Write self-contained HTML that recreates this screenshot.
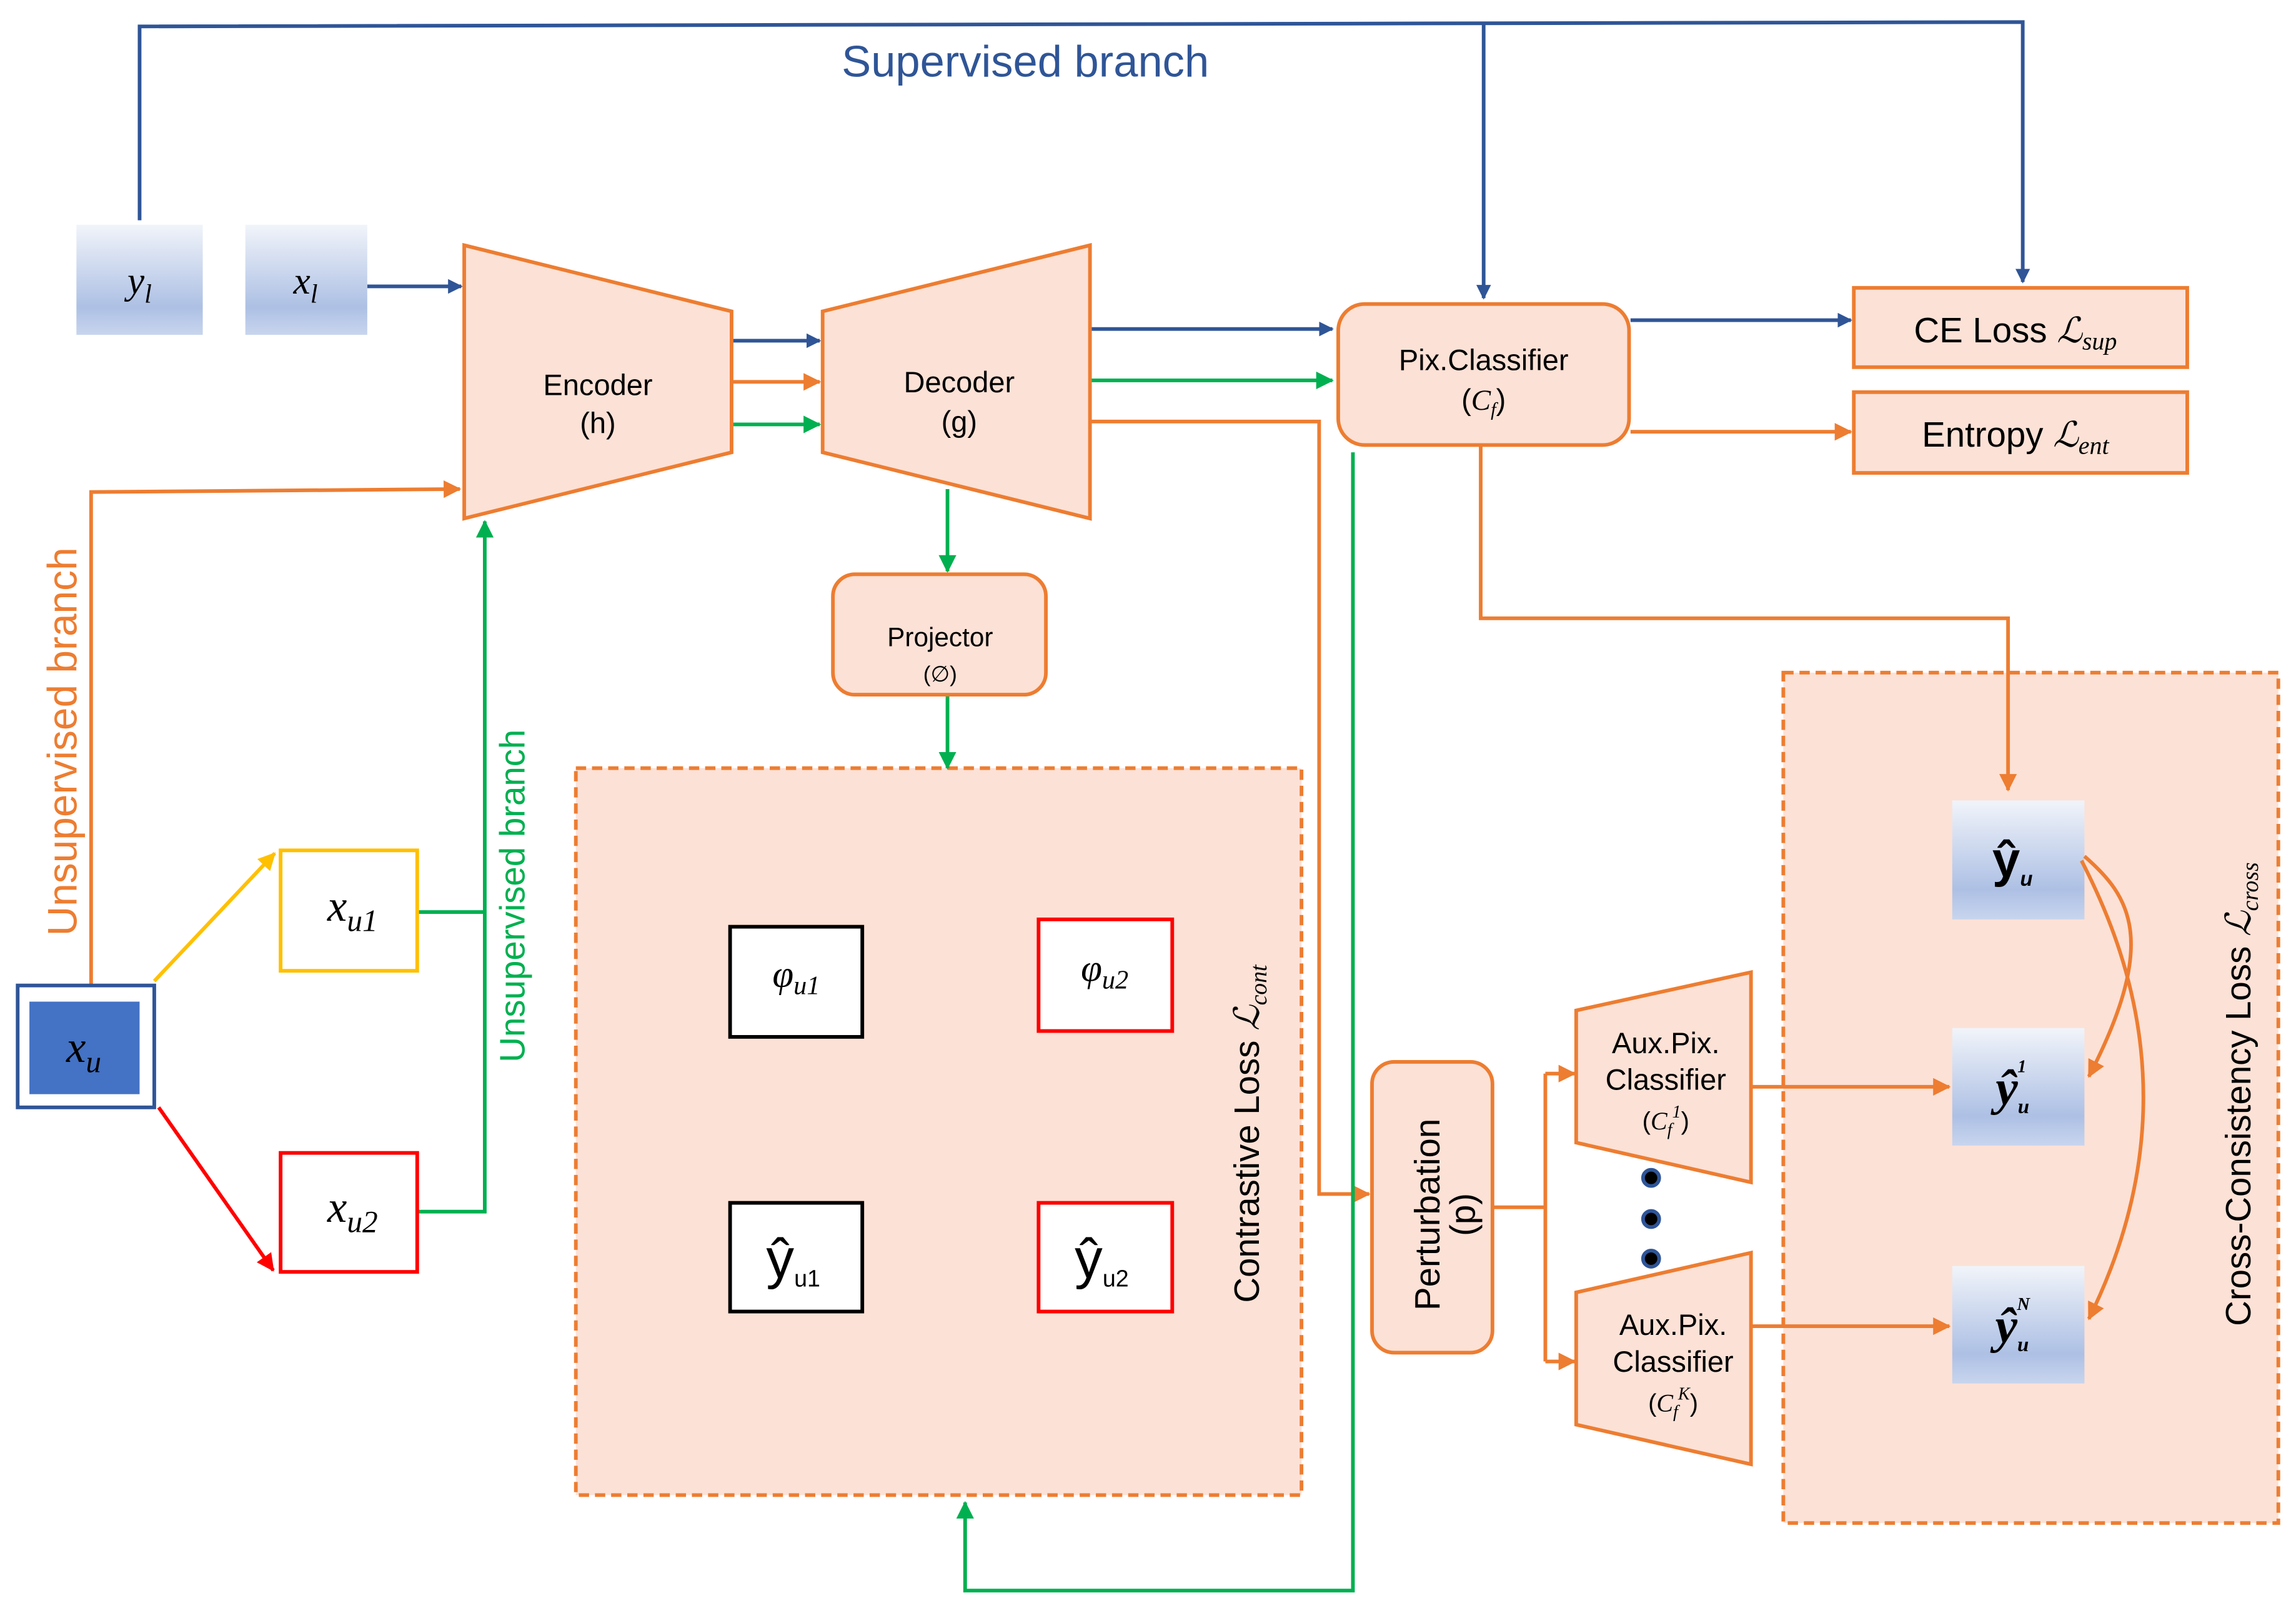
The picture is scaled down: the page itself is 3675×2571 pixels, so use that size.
<!DOCTYPE html>
<html><head><meta charset="utf-8"><style>
html,body{margin:0;padding:0;background:#fff;}
svg{display:block;}
text{font-family:"Liberation Sans","DejaVu Sans",sans-serif;}
.m{font-family:"Liberation Serif",serif;font-style:italic;}
</style></head><body>
<svg width="3675" height="2571" viewBox="0 0 1563 1093.5" xmlns="http://www.w3.org/2000/svg">
<defs>
<linearGradient id="bg" x1="0" y1="0" x2="0" y2="1">
<stop offset="0" stop-color="#f1f4fa"/><stop offset="0.75" stop-color="#adc0e4"/><stop offset="1" stop-color="#c8d5ee"/>
</linearGradient>
<marker id="ab" markerWidth="10" markerHeight="10" refX="9" refY="5" orient="auto" markerUnits="userSpaceOnUse"><path d="M0,0 L10,5 L0,10Z" fill="#2F5597"/></marker>
<marker id="ao" markerWidth="12" markerHeight="12" refX="11" refY="6" orient="auto" markerUnits="userSpaceOnUse"><path d="M0,0 L12,6 L0,12Z" fill="#ED7D31"/></marker>
<marker id="ag" markerWidth="12" markerHeight="12" refX="11" refY="6" orient="auto" markerUnits="userSpaceOnUse"><path d="M0,0 L12,6 L0,12Z" fill="#00B050"/></marker>
<marker id="ay" markerWidth="12" markerHeight="12" refX="11" refY="6" orient="auto" markerUnits="userSpaceOnUse"><path d="M0,0 L12,6 L0,12Z" fill="#FFC000"/></marker>
<marker id="ar" markerWidth="12" markerHeight="12" refX="11" refY="6" orient="auto" markerUnits="userSpaceOnUse"><path d="M0,0 L12,6 L0,12Z" fill="#FF0000"/></marker>
</defs>
<g fill="#FCE1D6" stroke="#ED7D31" stroke-width="2.5">
<rect x="392" y="523" width="494" height="495" stroke-dasharray="7,4"/>
<rect x="1214" y="458" width="337" height="579" stroke-dasharray="7,4"/>
</g>
<g fill="none" stroke-width="2.5">
<path d="M95,150 L95,18 L1377,15 L1377,192" stroke="#2F5597" marker-end="url(#ab)"/>
<path d="M1010,17 L1010,203" stroke="#2F5597" marker-end="url(#ab)"/>
<path d="M250,195 L314,195" stroke="#2F5597" marker-end="url(#ab)"/>
<path d="M499,232 L558,232" stroke="#2F5597" marker-end="url(#ab)"/>
<path d="M743,224 L907,224" stroke="#2F5597" marker-end="url(#ab)"/>
<path d="M1110,218 L1260,218" stroke="#2F5597" marker-end="url(#ab)"/>
<path d="M499,260 L558,260" stroke="#ED7D31" marker-end="url(#ao)"/>
<path d="M62,671 L62,335 L313,333" stroke="#ED7D31" marker-end="url(#ao)"/>
<path d="M743,287 L898,287 L898,813 L932,813" stroke="#ED7D31" marker-end="url(#ao)"/>
<path d="M1110,294 L1260,294" stroke="#ED7D31" marker-end="url(#ao)"/>
<path d="M1008,304 L1008,421 L1367,421 L1367,538" stroke="#ED7D31" marker-end="url(#ao)"/>
<path d="M1016,822 L1052,822" stroke="#ED7D31"/>
<path d="M1052,731 L1052,927" stroke="#ED7D31"/>
<path d="M1052,731 L1072,731" stroke="#ED7D31" marker-end="url(#ao)"/>
<path d="M1052,927 L1072,927" stroke="#ED7D31" marker-end="url(#ao)"/>
<path d="M1192,740 L1327,740" stroke="#ED7D31" marker-end="url(#ao)"/>
<path d="M1192,903 L1327,903" stroke="#ED7D31" marker-end="url(#ao)"/>
<path d="M499,289 L558,289" stroke="#00B050" marker-end="url(#ag)"/>
<path d="M743,259 L907,259" stroke="#00B050" marker-end="url(#ag)"/>
<path d="M645,333 L645,389" stroke="#00B050" marker-end="url(#ag)"/>
<path d="M645,473 L645,523" stroke="#00B050" marker-end="url(#ag)"/>
<path d="M921,308 L921,1083 L657,1083 L657,1023" stroke="#00B050" marker-end="url(#ag)"/>
<path d="M284,621 L330,621 M284,825 L330,825 L330,355" stroke="#00B050" marker-end="url(#ag)"/>
<path d="M105,668 L187,581" stroke="#FFC000" marker-end="url(#ay)"/>
<path d="M108,754 L186,865" stroke="#FF0000" marker-end="url(#ar)"/>
</g>
<text x="698" y="52" font-size="30" fill="#2F5597" text-anchor="middle">Supervised branch</text>
<rect x="52" y="153" width="86" height="75" fill="url(#bg)"/>
<rect x="167" y="153" width="83" height="75" fill="url(#bg)"/>
<text x="95" y="200" class="m" font-size="26" text-anchor="middle">y<tspan font-size="18" dy="6">l</tspan></text>
<text x="208" y="200" class="m" font-size="26" text-anchor="middle">x<tspan font-size="18" dy="6">l</tspan></text>
<g fill="#FCE1D6" stroke="#ED7D31" stroke-width="2.5">
<path d="M316,167 L498,212 L498,308 L316,353Z"/>
<path d="M560,212 L742,167 L742,353 L560,308Z"/>
<rect x="911" y="207" width="198" height="96" rx="18"/>
<rect x="1262" y="196" width="227" height="54"/>
<rect x="1262" y="267" width="227" height="55"/>
<rect x="567" y="391" width="145" height="82" rx="15"/>
<rect x="934" y="723" width="82" height="198" rx="15"/>
<path d="M1073,688 L1192,662 L1192,805 L1073,778Z"/>
<path d="M1073,880 L1192,853 L1192,997 L1073,970Z"/>
</g>
<g font-size="20" text-anchor="middle" fill="#000">
<text x="407" y="269">Encoder</text><text x="407" y="295">(h)</text>
<text x="653" y="267">Decoder</text><text x="653" y="294">(g)</text>
<text x="1010" y="252">Pix.Classifier</text>
<text x="1010" y="279">(<tspan class="m">C<tspan font-size="13" dy="4">f</tspan></tspan><tspan dy="-4">)</tspan></text>
<text x="1372" y="233" font-size="24">CE Loss <tspan class="m">ℒ<tspan font-size="17" dy="5">sup</tspan></tspan></text>
<text x="1372" y="304" font-size="24">Entropy <tspan class="m">ℒ<tspan font-size="17" dy="5">ent</tspan></tspan></text>
<text x="640" y="440" font-size="18">Projector</text>
<text x="640" y="464" font-size="15">(∅)</text>
<text x="1134" y="717">Aux.Pix.</text><text x="1134" y="742">Classifier</text>
<text x="1134" y="769" font-size="17">(<tspan class="m">C<tspan font-size="12" dy="4">f</tspan><tspan font-size="12" dy="-12">1</tspan></tspan><tspan dy="8">)</tspan></text>
<text x="1139" y="909">Aux.Pix.</text><text x="1139" y="934">Classifier</text>
<text x="1139" y="961" font-size="17">(<tspan class="m">C<tspan font-size="12" dy="4">f</tspan><tspan font-size="12" dy="-12">K</tspan></tspan><tspan dy="8">)</tspan></text>
</g>
<text transform="translate(980,827) rotate(-90)" font-size="24" text-anchor="middle">Perturbation</text>
<text transform="translate(1004,827) rotate(-90)" font-size="24" text-anchor="middle">(p)</text>
<text transform="translate(857,772) rotate(-90)" font-size="24" text-anchor="middle">Contrastive Loss <tspan class="m">ℒ<tspan font-size="16" dy="5">cont</tspan></tspan></text>
<text transform="translate(1532,745) rotate(-90)" font-size="24" text-anchor="middle">Cross-Consistency Loss <tspan class="m">ℒ<tspan font-size="16" dy="5">cross</tspan></tspan></text>
<text transform="translate(52,505) rotate(-90)" font-size="28" fill="#ED7D31" text-anchor="middle">Unsupervised branch</text>
<text transform="translate(357,610) rotate(-90)" font-size="24" fill="#00B050" text-anchor="middle">Unsupervised branch</text>
<rect x="12" y="671" width="93" height="83" fill="#fff" stroke="#2F5597" stroke-width="2.5"/>
<rect x="20" y="682" width="75" height="63" fill="#4472C4"/>
<text x="57" y="723" class="m" font-size="30" text-anchor="middle">x<tspan font-size="21" dy="7">u</tspan></text>
<rect x="191" y="579" width="93" height="82" fill="#fff" stroke="#FFC000" stroke-width="2.5"/>
<text x="240" y="627" class="m" font-size="30" text-anchor="middle">x<tspan font-size="21" dy="7">u1</tspan></text>
<rect x="191" y="785" width="93" height="81" fill="#fff" stroke="#FF0000" stroke-width="2.5"/>
<text x="240" y="832" class="m" font-size="30" text-anchor="middle">x<tspan font-size="21" dy="7">u2</tspan></text>
<g fill="#fff" stroke-width="2.5">
<rect x="497" y="631" width="90" height="75" stroke="#000"/>
<rect x="707" y="626" width="91" height="76" stroke="#f00"/>
<rect x="497" y="819" width="90" height="74" stroke="#000"/>
<rect x="707" y="819" width="91" height="74" stroke="#f00"/>
</g>
<text x="542" y="672" class="m" font-size="26" text-anchor="middle">φ<tspan font-size="18" dy="5">u1</tspan></text>
<text x="752" y="668" class="m" font-size="26" text-anchor="middle">φ<tspan font-size="18" dy="5">u2</tspan></text>
<text x="540" y="870" font-family="Liberation Serif" font-size="38" text-anchor="middle">ŷ<tspan font-size="16" dy="6">u1</tspan></text>
<text x="750" y="870" font-family="Liberation Serif" font-size="38" text-anchor="middle">ŷ<tspan font-size="16" dy="6">u2</tspan></text>
<rect x="1329" y="545" width="90" height="81" fill="url(#bg)"/>
<rect x="1329" y="700" width="90" height="80" fill="url(#bg)"/>
<rect x="1329" y="862" width="90" height="80" fill="url(#bg)"/>
<text x="1370" y="597" font-family="Liberation Serif" font-weight="bold" font-size="34" text-anchor="middle">ŷ<tspan font-size="14" font-style="italic" dy="6">u</tspan></text>
<text x="1370" y="752" class="m" font-weight="bold" font-size="34" text-anchor="middle">ŷ<tspan font-size="14" dy="6">u</tspan><tspan font-size="12" dx="-8" dy="-28">1</tspan></text>
<text x="1370" y="914" class="m" font-weight="bold" font-size="34" text-anchor="middle">ŷ<tspan font-size="14" dy="6">u</tspan><tspan font-size="12" dx="-8" dy="-28">N</tspan></text>
<g fill="none" stroke="#ED7D31" stroke-width="2.5">
<path d="M1419,583 C1450,610 1470,640 1422,733" marker-end="url(#ao)"/>
<path d="M1417,586 C1450,650 1490,760 1422,898" marker-end="url(#ao)"/>
</g>
<g fill="#000" stroke="#2F5597" stroke-width="2.5">
<circle cx="1124" cy="802" r="5.5"/><circle cx="1124" cy="830" r="5.5"/><circle cx="1124" cy="857" r="5.5"/>
</g>
</svg>
</body></html>
